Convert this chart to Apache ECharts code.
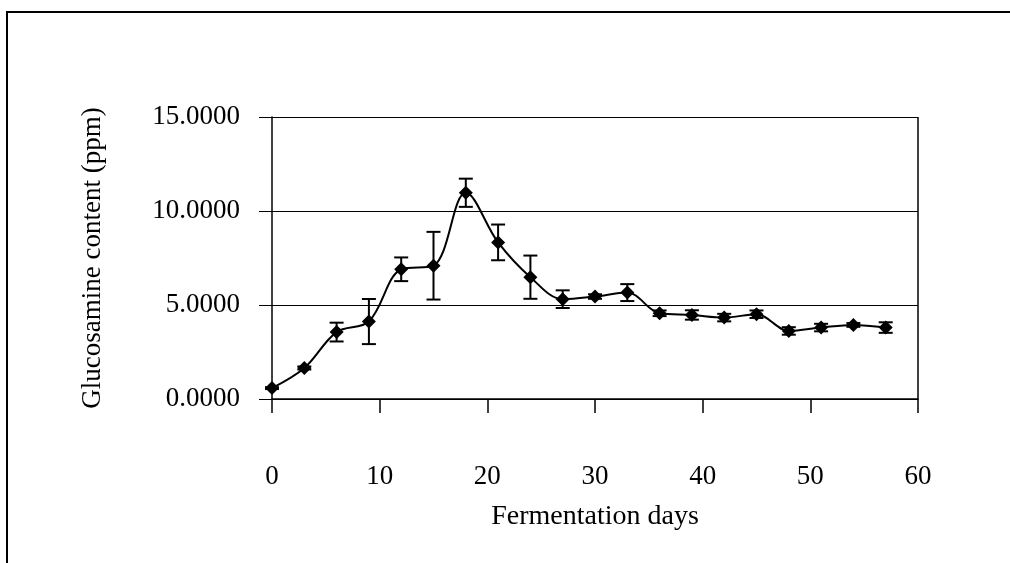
<!DOCTYPE html>
<html>
<head>
<meta charset="utf-8">
<script src="https://cdn.jsdelivr.net/npm/echarts@6/dist/echarts.min.js"></script>
<style>
  html, body { margin: 0; padding: 0; background: #fff; }
  #chart { width: 1010px; height: 563px; }
</style>
</head>
<body>
<div id="chart"></div>
<script>
// Fermentation day of each sampling
const days = [0, 3, 6, 9, 12, 15, 18, 21, 24, 27, 30, 33, 36, 39, 42, 45, 48, 51, 54, 57];
// Mean glucosamine content (ppm)
const glucosamine = [0.58, 1.65, 3.56, 4.12, 6.90, 7.09, 10.97, 8.33, 6.48, 5.31,
                     5.45, 5.66, 4.56, 4.47, 4.33, 4.51, 3.62, 3.80, 3.94, 3.80];
// Standard deviation of each mean (ppm)
const stdDev = [0.05, 0.08, 0.50, 1.20, 0.63, 1.80, 0.75, 0.95, 1.15, 0.47,
                0.12, 0.45, 0.15, 0.25, 0.20, 0.20, 0.20, 0.20, 0.10, 0.28];
// Axis tick values
const xTicks = [0, 10, 20, 30, 40, 50, 60];
const yTicks = [0, 5, 10, 15];

const FONT = '"Liberation Serif", "DejaVu Serif", serif';

const lineData = days.map((d, i) => [d, glucosamine[i]]);
const errData = days.map((d, i) => [d, glucosamine[i] - stdDev[i], glucosamine[i] + stdDev[i]]);

const chart = echarts.init(document.getElementById('chart'), null, { renderer: 'canvas' });

chart.setOption({
  animation: false,
  backgroundColor: '#ffffff',
  grid: { left: 272, top: 117, right: 92, bottom: 164, containLabel: false, show: false },
  graphic: [{
    // outer frame around the whole figure
    type: 'rect',
    shape: { x: 7, y: 12, width: 1020, height: 580 },
    style: { fill: 'none', stroke: '#000', lineWidth: 2 },
    silent: true
  }, {
    // right edge of the plot area
    type: 'line',
    shape: { x1: 918, y1: 117, x2: 918, y2: 399 },
    style: { stroke: '#000', lineWidth: 1.5 },
    silent: true
  }],
  xAxis: {
    type: 'value',
    min: xTicks[0],
    max: xTicks[xTicks.length - 1],
    interval: 10,
    name: 'Fermentation days',
    nameLocation: 'middle',
    nameGap: 104,
    nameTextStyle: { fontFamily: FONT, fontSize: 28, color: '#000' },
    axisLine: { show: true, onZero: false, lineStyle: { color: '#000', width: 1.5 } },
    axisTick: { show: true, inside: false, length: 14, lineStyle: { color: '#000', width: 1.5 } },
    axisLabel: { margin: 64, fontFamily: FONT, fontSize: 27, color: '#000' },
    splitLine: { show: false }
  },
  yAxis: {
    type: 'value',
    min: yTicks[0],
    max: yTicks[yTicks.length - 1],
    interval: 5,
    name: 'Glucosamine content (ppm)',
    nameLocation: 'middle',
    nameGap: 166,
    nameTextStyle: { fontFamily: FONT, fontSize: 27, color: '#000' },
    axisLine: { show: true, lineStyle: { color: '#000', width: 1.5 } },
    axisTick: { show: true, inside: false, length: 13, lineStyle: { color: '#000', width: 1 } },
    axisLabel: {
      margin: 32, fontFamily: FONT, fontSize: 27, color: '#000',
      formatter: v => v.toFixed(4)
    },
    splitLine: { show: true, lineStyle: { color: '#000', width: 1 } }
  },
  series: [{
    type: 'line',
    data: lineData,
    smooth: 0.35,
    symbol: 'diamond',
    symbolSize: 14,
    itemStyle: { color: '#000' },
    lineStyle: { color: '#000', width: 2 },
    z: 3
  }, {
    type: 'custom',
    data: errData,
    z: 4,
    renderItem: function (params, api) {
      const x = api.value(0);
      const lo = api.coord([x, api.value(1)]);
      const hi = api.coord([x, api.value(2)]);
      const half = 7;
      const style = { stroke: '#000', lineWidth: 2 };
      return {
        type: 'group',
        children: [
          { type: 'line', shape: { x1: lo[0], y1: lo[1], x2: hi[0], y2: hi[1] }, style },
          { type: 'line', shape: { x1: hi[0] - half, y1: hi[1], x2: hi[0] + half, y2: hi[1] }, style },
          { type: 'line', shape: { x1: lo[0] - half, y1: lo[1], x2: lo[0] + half, y2: lo[1] }, style }
        ]
      };
    }
  }]
});
</script>
</body>
</html>
